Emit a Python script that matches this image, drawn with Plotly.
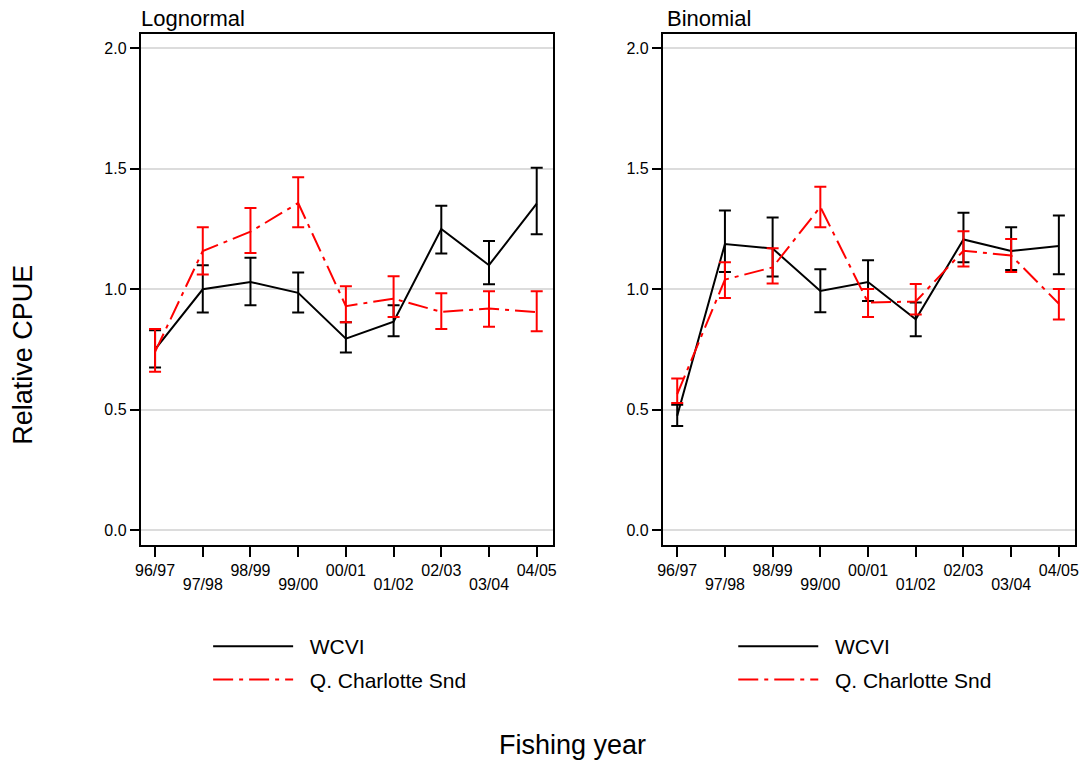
import plotly.graph_objects as go

years = ["96/97", "97/98", "98/99", "99/00", "00/01", "01/02", "02/03", "03/04", "04/05"]

# Lognormal panel
logn_wcvi = [0.75, 1.00, 1.03, 0.985, 0.795, 0.865, 1.25, 1.10, 1.356]
logn_wcvi_lo = [0.675, 0.903, 0.934, 0.903, 0.737, 0.805, 1.149, 1.021, 1.228]
logn_wcvi_hi = [0.83, 1.10, 1.131, 1.07, 0.863, 0.934, 1.347, 1.20, 1.505]
logn_qcs = [0.74, 1.159, 1.239, 1.358, 0.93, 0.961, 0.906, 0.92, 0.905]
logn_qcs_lo = [0.657, 1.061, 1.151, 1.258, 0.863, 0.885, 0.835, 0.844, 0.826]
logn_qcs_hi = [0.835, 1.257, 1.337, 1.465, 1.012, 1.054, 0.983, 0.992, 0.992]

# Binomial panel
bin_wcvi = [0.475, 1.188, 1.169, 0.993, 1.03, 0.875, 1.207, 1.159, 1.18]
bin_wcvi_lo = [0.432, 1.072, 1.053, 0.905, 0.951, 0.805, 1.112, 1.08, 1.062]
bin_wcvi_hi = [0.52, 1.327, 1.298, 1.083, 1.12, 0.945, 1.318, 1.257, 1.306]
bin_qcs = [0.565, 1.04, 1.091, 1.342, 0.945, 0.949, 1.16, 1.14, 0.94]
bin_qcs_lo = [0.528, 0.964, 1.024, 1.258, 0.885, 0.895, 1.095, 1.072, 0.874]
bin_qcs_hi = [0.629, 1.112, 1.17, 1.426, 1.001, 1.022, 1.241, 1.209, 1.001]

y_ticks = [0.0, 0.5, 1.0, 1.5, 2.0]
series_names = ["WCVI", "Q. Charlotte Snd"]

FONT = "Liberation Sans, Arial, sans-serif"
BLACK = "#000000"
RED = "#ff0000"
DASH = "20px,6px,4px,6px"
NBSP = "\u00a0\u00a0"

fig = go.Figure()


def add_series(vals, lo, hi, name, color, dash, xa, ya, legend, group):
    fig.add_trace(go.Scatter(
        x=list(range(len(years))), y=vals, name=NBSP + name, mode="lines",
        line=dict(color=color, width=2, dash=dash),
        error_y=dict(type="data", symmetric=False,
                     array=[h - v for h, v in zip(hi, vals)],
                     arrayminus=[v - l for v, l in zip(vals, lo)],
                     color=color, thickness=2, width=6),
        xaxis=xa, yaxis=ya, legend=legend, legendgroup=group,
    ))


# WCVI on main x axes, QCS on the overlaid x axes (identical ranges) that carry the second label row
add_series(logn_wcvi, logn_wcvi_lo, logn_wcvi_hi, series_names[0], BLACK, "solid", "x", "y", "legend", "lw")
add_series(logn_qcs, logn_qcs_lo, logn_qcs_hi, series_names[1], RED, DASH, "x3", "y", "legend", "lq")
add_series(bin_wcvi, bin_wcvi_lo, bin_wcvi_hi, series_names[0], BLACK, "solid", "x2", "y2", "legend2", "bw")
add_series(bin_qcs, bin_qcs_lo, bin_qcs_hi, series_names[1], RED, DASH, "x4", "y2", "legend2", "bq")

W, H = 1088, 765
idx = list(range(len(years)))
odd_idx = idx[1::2]
XR = [-0.3, 8.34]

tickfont = dict(family=FONT, size=16, color=BLACK)
xmain = dict(range=XR, tickvals=idx, ticktext=[years[i] if i % 2 == 0 else "" for i in idx],
             ticks="outside", ticklen=10, tickwidth=1.5, tickcolor=BLACK,
             showline=True, mirror=True, linewidth=2, linecolor=BLACK,
             showgrid=False, zeroline=False, tickfont=tickfont)
xodd = dict(range=XR, tickvals=odd_idx, ticktext=[years[i] for i in odd_idx],
            ticks="outside", ticklen=10, tickwidth=1, tickcolor="rgba(0,0,0,0)",
            showline=False, showgrid=False, zeroline=False, tickfont=tickfont,
            ticklabelstandoff=15)
ycommon = dict(range=[-0.062, 2.06], tickvals=y_ticks, ticktext=[f"{v:.1f}" for v in y_ticks],
               ticks="outside", ticklen=9, tickwidth=1.5, tickcolor=BLACK,
               showline=True, mirror=True, linewidth=2, linecolor=BLACK,
               showgrid=True, gridcolor="#dcdcdc", gridwidth=1.5, zeroline=False,
               tickfont=tickfont)

ydom = [1 - 545 / H, 1 - 34 / H]
legfont = dict(family=FONT, size=21, color=BLACK)
fig.update_layout(
    width=W, height=H,
    margin=dict(l=0, r=0, t=0, b=0),
    paper_bgcolor="white", plot_bgcolor="white",
    font=dict(family=FONT, color=BLACK),
    xaxis=dict(domain=[136 / W, 552 / W], anchor="y", **xmain),
    yaxis=dict(domain=ydom, anchor="x", **ycommon),
    xaxis2=dict(domain=[663 / W, 1079 / W], anchor="y2", **xmain),
    yaxis2=dict(domain=ydom, anchor="x2", **ycommon),
    xaxis3=dict(overlaying="x", anchor="y", side="bottom", **xodd),
    xaxis4=dict(overlaying="x2", anchor="y2", side="bottom", **xodd),
    legend=dict(x=204 / W, y=1 - 626 / H, xanchor="left", yanchor="top",
                itemwidth=80, font=legfont, bgcolor="rgba(0,0,0,0)", tracegroupgap=3),
    legend2=dict(x=734 / W, y=1 - 626 / H, xanchor="left", yanchor="top",
                 itemwidth=80, font=legfont, bgcolor="rgba(0,0,0,0)", tracegroupgap=3),
    showlegend=True,
    annotations=[
        dict(text="Lognormal", x=134 / W, y=1 - 18 / H, xref="paper", yref="paper",
             xanchor="left", yanchor="middle", showarrow=False,
             font=dict(family=FONT, size=22, color=BLACK)),
        dict(text="Binomial", x=665 / W, y=1 - 18 / H, xref="paper", yref="paper",
             xanchor="left", yanchor="middle", showarrow=False,
             font=dict(family=FONT, size=22, color=BLACK)),
        dict(text="Relative CPUE", x=17 / W, y=1 - 355 / H, xref="paper", yref="paper",
             xanchor="center", yanchor="middle", textangle=-90, showarrow=False,
             font=dict(family=FONT, size=27, color=BLACK)),
        dict(text="Fishing year", x=572 / W, y=1 - 745 / H, xref="paper", yref="paper",
             xanchor="center", yanchor="middle", showarrow=False,
             font=dict(family=FONT, size=27, color=BLACK)),
    ],
)

fig.write_html("out.html", config={"displayModeBar": False},
               post_script="document.body.style.margin='0';")
